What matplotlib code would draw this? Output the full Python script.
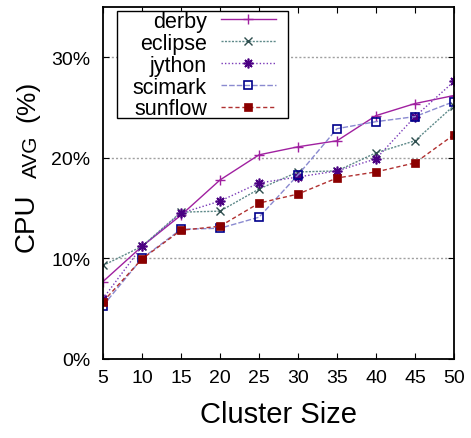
import matplotlib
matplotlib.use("Agg")
import matplotlib.pyplot as plt
from matplotlib.ticker import FuncFormatter
from matplotlib.patches import Rectangle

plt.rcParams['font.family'] = ['Liberation Sans', 'DejaVu Sans']

cluster_sizes = [5, 10, 15, 20, 25, 30, 35, 40, 45, 50]
derby   = [7.7, 11.2, 14.3, 17.8, 20.3, 21.1, 21.7, 24.2, 25.4, 26.2]
eclipse = [9.3, 11.2, 14.6, 14.7, 16.9, 18.6, 18.7, 20.5, 21.7, 25.2]
jython  = [6.0, 11.2, 14.5, 15.7, 17.5, 18.1, 18.7, 19.9, 24.1, 27.6]
scimark = [5.3, 10.0, 12.9, 13.0, 14.1, 18.3, 22.9, 23.6, 24.1, 25.6]
sunflow = [5.7, 9.95, 12.8, 13.2, 15.5, 16.4, 18.0, 18.6, 19.5, 22.3]
y_ticks = [0, 10, 20, 30]

W, H = 471, 439
AX_L, AX_T, AX_W, AX_H = 103, 8, 351, 352
fig = plt.figure(figsize=(W / 100, H / 100), dpi=100)
ax = fig.add_axes([AX_L / W, 1 - (AX_T + AX_H) / H, AX_W / W, AX_H / H])

def axx(px):
    return (px - AX_L) / AX_W

def axy(py):
    return 1 - (py - AX_T) / AX_H

series = [
    ("derby", derby, dict(color='#a020a0', linestyle='-', marker='+', markersize=7,
                          markeredgewidth=1.0, markeredgecolor='#a020a0')),
    ("eclipse", eclipse, dict(color='#5f8a8a', linestyle=(0, (1.5, 1)), marker='x', markersize=6,
                              markeredgewidth=1.0, markeredgecolor='#2f4f4f')),
    ("jython", jython, dict(color='#7a3ab8', linestyle=(0, (1, 1.5)), marker=(8, 2, 0), markersize=7,
                            markeredgewidth=1.2, markeredgecolor='#4b0082')),
    ("scimark", scimark, dict(color='#8a8ad0', linestyle=(0, (4, 1.5)), marker='s', markersize=5.5,
                              markeredgewidth=1.2, markeredgecolor='#00008b', markerfacecolor='none')),
    ("sunflow", sunflow, dict(color='#b03030', linestyle=(0, (3, 2)), marker='s', markersize=5.5,
                              markeredgewidth=0.5, markeredgecolor='#8b0000', markerfacecolor='#8b0000')),
]
for name, vals, kw in series:
    ax.plot(cluster_sizes, vals, label=name, linewidth=1.0, **kw)

ax.set_xlim(5, 50)
ax.set_ylim(0, 35)
ax.set_xticks(cluster_sizes)
ax.set_yticks(y_ticks)
ax.yaxis.set_major_formatter(FuncFormatter(lambda v, p: f"{int(v)}%"))
ax.tick_params(direction='in', length=4, width=0.8, labelsize=14, top=True, right=True)
ax.tick_params(axis='x', pad=7)
ax.tick_params(axis='y', pad=9)
ax.yaxis.grid(True, color='#a0a0a0', linestyle=(0, (1.5, 1.5)), linewidth=1.0)
ax.set_axisbelow(True)
for s in ax.spines.values():
    s.set_linewidth(1.3)
    s.set_color('black')

ax.set_xlabel("Cluster Size", fontsize=21, labelpad=10)

# y label: "CPU" + subscript "AVG" + "(%)", rotated
def ytext(px, py, s, size):
    fig.text(px / W, 1 - py / H, s, rotation=90, rotation_mode='anchor',
             ha='left', va='baseline', fontsize=size)

ytext(34, 252, "CPU", 20)
ytext(37, 178, "AVG", 15)
ytext(34, 122, "(%)", 19)

# legend frame (gnuplot-style box) and legend entries
ax.add_patch(Rectangle((axx(117), axy(119)), axx(288) - axx(117), axy(12) - axy(119),
                       transform=ax.transAxes, facecolor='white', edgecolor='black',
                       linewidth=1.0, zorder=4.5, clip_on=False))
leg = ax.legend(loc='upper right', bbox_to_anchor=(axx(276), axy(12)), borderaxespad=0,
                markerfirst=False, fontsize=15.5, handlelength=2.56, handletextpad=0.65,
                labelspacing=0.04, borderpad=0.0, frameon=False)
leg.set_zorder(5)

fig.savefig("out.png", dpi=100)
